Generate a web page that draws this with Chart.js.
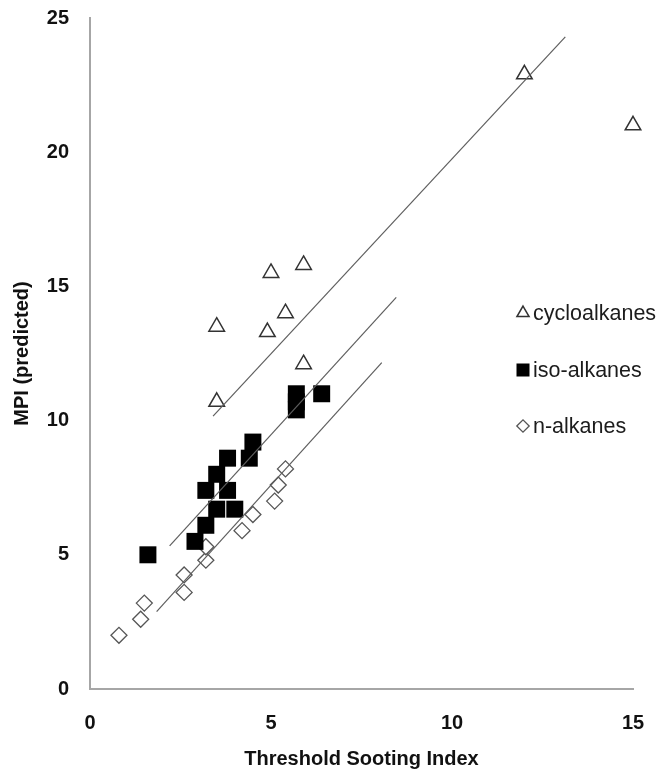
<!DOCTYPE html>
<html>
<head>
<meta charset="utf-8">
<title>MPI vs TSI</title>
<script src="https://cdn.jsdelivr.net/npm/chart.js@4.4.1/dist/chart.umd.min.js"></script>
<style>
  html, body { margin: 0; padding: 0; background: #fff; }
  #wrap { width: 662px; height: 771px; }
</style>
</head>
<body>
<div id="wrap"><canvas id="tsiChart" width="662" height="771"></canvas></div>
<script>
// measured points: Threshold Sooting Index (x) vs predicted MPI (y)
const cycloTsi = [3.5, 3.5, 4.9, 5.0, 5.4, 5.9, 5.9, 12.0, 15.0];
const cycloMpi = [10.7, 13.5, 13.3, 15.5, 14.0, 15.8, 12.1, 22.9, 21.0];

const isoTsi = [1.6, 2.9, 3.2, 3.5, 4.0, 3.2, 3.8, 3.5, 3.8, 4.4, 4.5, 5.7, 5.7, 5.7, 6.4];
const isoMpi = [5.0, 5.5, 6.1, 6.7, 6.7, 7.4, 7.4, 8.0, 8.6, 8.6, 9.2, 10.4, 10.7, 11.0, 11.0];

const nTsi = [0.8, 1.4, 1.5, 2.6, 2.6, 3.2, 3.2, 4.2, 4.5, 5.1, 5.2, 5.4];
const nMpi = [2.0, 2.6, 3.2, 3.6, 4.25, 4.8, 5.3, 5.9, 6.5, 7.0, 7.6, 8.2];

// linear trend lines (start / end of each fit)
const cycloFitTsi = [3.4, 13.13];
const cycloFitMpi = [10.17, 24.3];
const isoFitTsi = [2.2, 8.46];
const isoFitMpi = [5.33, 14.59];
const nFitTsi = [1.84, 8.06];
const nFitMpi = [2.88, 12.16];

const xTicks = [0, 5, 10, 15];
const yTicks = [0, 5, 10, 15, 20, 25];

const toPoints = (xs, ys) => xs.map((x, i) => ({ x: x, y: ys[i] }));

const FONT = "'Liberation Sans', Arial, sans-serif";

function fitLine(xs, ys) {
  return {
    data: toPoints(xs, ys),
    showLine: true,
    pointRadius: 0,
    borderColor: "#5e5e5e",
    borderWidth: 1.2,
    clip: false,
    order: 0
  };
}

// legend drawn inside the plot, to the right of the clusters
const sideLegend = {
  id: "sideLegend",
  afterDraw(chart) {
    const ctx = chart.ctx;
    const symX = 523, textX = 533;
    const rows = [313, 370, 426];
    const sizes = { triangle: 7, rect: 9.2, rectRot: 6.2 };
    let row = 0;
    chart.data.datasets.forEach(ds => {
      if (!ds.label) return;
      const y = rows[row++];
      ctx.save();
      ctx.fillStyle = ds.backgroundColor;
      ctx.strokeStyle = ds.borderColor;
      ctx.lineWidth = ds.borderWidth;
      Chart.helpers.drawPoint(ctx, {
        pointStyle: ds.pointStyle,
        radius: sizes[ds.pointStyle],
        rotation: 0,
        borderWidth: ds.borderWidth
      }, symX, y);
      ctx.restore();

      ctx.save();
      ctx.fillStyle = "#1c1c1c";
      ctx.font = "21.5px " + FONT;
      ctx.textAlign = "left";
      ctx.textBaseline = "middle";
      ctx.fillText(ds.label, textX, y + 1);
      ctx.restore();
    });
  }
};

new Chart(document.getElementById("tsiChart"), {
  type: "scatter",
  data: {
    datasets: [
      fitLine(cycloFitTsi, cycloFitMpi),
      fitLine(isoFitTsi, isoFitMpi),
      fitLine(nFitTsi, nFitMpi),
      {
        label: "cycloalkanes",
        data: toPoints(cycloTsi, cycloMpi),
        pointStyle: "triangle",
        pointRadius: 9,
        backgroundColor: "#ffffff",
        borderColor: "#333333",
        borderWidth: 1.5,
        clip: false,
        order: 1
      },
      {
        label: "iso-alkanes",
        data: toPoints(isoTsi, isoMpi),
        pointStyle: "rect",
        pointRadius: 12,
        backgroundColor: "#000000",
        borderColor: "#000000",
        borderWidth: 0,
        clip: false,
        order: 2
      },
      {
        label: "n-alkanes",
        data: toPoints(nTsi, nMpi),
        pointStyle: "rectRot",
        pointRadius: 8,
        backgroundColor: "#ffffff",
        borderColor: "#555555",
        borderWidth: 1.3,
        clip: false,
        order: 3
      }
    ]
  },
  options: {
    responsive: false,
    animation: false,
    events: [],
    layout: { padding: { top: 18, right: 29, left: 0, bottom: 0 } },
    plugins: {
      legend: { display: false },
      tooltip: { enabled: false }
    },
    scales: {
      x: {
        type: "linear",
        min: 0,
        max: 15,
        afterBuildTicks: scale => { scale.ticks = xTicks.map(v => ({ value: v })); },
        afterFit: scale => {
          scale.height = 82;
          scale.paddingLeft = 0;
          scale.paddingRight = 0;
        },
        grid: { display: false, drawTicks: false },
        border: { display: true, color: "#a6a6a6", width: 2 },
        ticks: {
          padding: 22,
          color: "#111",
          font: { family: FONT, size: 20, weight: "bold" }
        },
        title: {
          display: true,
          text: "Threshold Sooting Index",
          color: "#111",
          padding: { top: 0, bottom: 0 },
          font: { family: FONT, size: 20, weight: "bold" }
        }
      },
      y: {
        type: "linear",
        min: 0,
        max: 25,
        afterBuildTicks: scale => { scale.ticks = yTicks.map(v => ({ value: v })); },
        afterFit: scale => {
          scale.width = 90;
          scale.paddingTop = 0;
          scale.paddingBottom = 0;
        },
        grid: { display: false, drawTicks: false },
        border: { display: true, color: "#a6a6a6", width: 2 },
        ticks: {
          padding: 21,
          color: "#111",
          font: { family: FONT, size: 20, weight: "bold" }
        },
        title: {
          display: true,
          text: "MPI (predicted)",
          color: "#111",
          padding: { top: 10, bottom: 0 },
          font: { family: FONT, size: 20, weight: "bold" }
        }
      }
    }
  },
  plugins: [sideLegend]
});
</script>
</body>
</html>
